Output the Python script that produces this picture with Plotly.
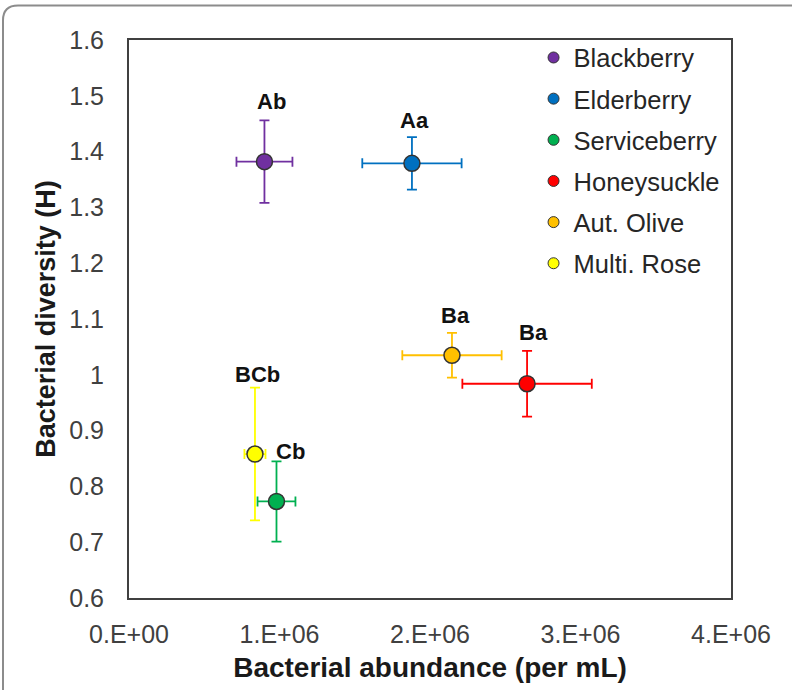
import plotly.graph_objects as go

# Shrub species and their bacterial community measurements
species = ["Blackberry", "Elderberry", "Serviceberry", "Honeysuckle", "Aut. Olive", "Multi. Rose"]
abundance = [0.90e6, 1.88e6, 0.98e6, 2.645e6, 2.146e6, 0.837e6]      # cells per mL
abundance_err = [0.186e6, 0.33e6, 0.126e6, 0.43e6, 0.33e6, 0.07e6]
diversity = [1.382, 1.379, 0.773, 0.984, 1.035, 0.858]                # Shannon H
diversity_err = [0.074, 0.047, 0.072, 0.059, 0.040, 0.119]
letters = ["Ab", "Aa", "Cb", "Ba", "Ba", "BCb"]
colors = ["#7030A0", "#0070C0", "#00B050", "#FF0000", "#FFC000", "#FFFF00"]

x_ticks = [0, 1e6, 2e6, 3e6, 4e6]
x_tick_text = ["0.E+00", "1.E+06", "2.E+06", "3.E+06", "4.E+06"]
y_ticks = [0.6, 0.7, 0.8, 0.9, 1.0, 1.1, 1.2, 1.3, 1.4, 1.5, 1.6]
y_tick_text = ["0.6", "0.7", "0.8", "0.9", "1", "1.1", "1.2", "1.3", "1.4", "1.5", "1.6"]

# letter placement offsets (pixels) relative to the top of each error bar
label_dx = [7, 3, 14, 6, 4, 3]
label_dy = [4, 2, -5, 4, 3, -1]

W, H = 792, 690
L, R, T, B = 129, 61, 40, 85

fig = go.Figure()

for i, name in enumerate(species):
    fig.add_trace(go.Scatter(
        x=[abundance[i]], y=[diversity[i]], mode="markers",
        marker=dict(size=16, color=colors[i], line=dict(color="#333333", width=1.5)),
        error_x=dict(type="data", array=[abundance_err[i]], color=colors[i], thickness=1.8, width=5),
        error_y=dict(type="data", array=[diversity_err[i]], color=colors[i], thickness=1.8, width=5),
        showlegend=False, name=name,
    ))

# legend entries with small markers
for i, name in enumerate(species):
    fig.add_trace(go.Scatter(
        x=[None], y=[None], mode="markers", name=name, legendgroup=name,
        marker=dict(size=11, color=colors[i], line=dict(color="#333333", width=1)),
    ))

for i, txt in enumerate(letters):
    fig.add_annotation(
        x=abundance[i], y=diversity[i] + diversity_err[i], text=f"<b>{txt}</b>",
        showarrow=False, xanchor="center", yanchor="bottom",
        xshift=label_dx[i], yshift=label_dy[i],
        font=dict(family="Liberation Sans, Arial", size=22, color="#111111"),
    )


def px_to_paper(px, py):
    return (px - L) / (W - L - R), (H - B - py) / (H - T - B)


# rounded outer frame around the figure
p0 = px_to_paper(3, 720)
p1 = px_to_paper(3, 20)
pc = px_to_paper(3, 5)
p2 = px_to_paper(18, 5)
p3 = px_to_paper(820, 5)
fig.add_shape(
    type="path", xref="paper", yref="paper",
    path=f"M {p0[0]},{p0[1]} L {p1[0]},{p1[1]} Q {pc[0]},{pc[1]} {p2[0]},{p2[1]} L {p3[0]},{p3[1]}",
    line=dict(color="#8c8c8c", width=2),
)

axis_common = dict(
    showgrid=False, zeroline=False, showline=True, mirror=True,
    linecolor="#404040", linewidth=2, ticks="",
    tickfont=dict(family="Liberation Sans, Arial", size=25, color="#404040"),
)

fig.update_layout(
    width=W, height=H,
    margin=dict(l=L, r=R, t=T, b=B),
    paper_bgcolor="white", plot_bgcolor="white",
    font=dict(family="Liberation Sans, Arial"),
    xaxis=dict(
        range=[0, 4e6], tickvals=x_ticks, ticktext=x_tick_text,
        ticklabelstandoff=13,
        title=dict(text="<b>Bacterial abundance (per mL)</b>", standoff=10,
                   font=dict(family="Liberation Sans, Arial", size=28, color="#1a1a1a")),
        **axis_common,
    ),
    yaxis=dict(
        range=[0.6, 1.6], tickvals=y_ticks, ticktext=y_tick_text,
        ticklabelstandoff=18,
        title=dict(text="<b>Bacterial diversity (H)</b>", standoff=6,
                   font=dict(family="Liberation Sans, Arial", size=27, color="#1a1a1a")),
        **axis_common,
    ),
    legend=dict(
        x=0.672, y=1.01, xanchor="left", yanchor="top",
        bgcolor="rgba(0,0,0,0)", borderwidth=0,
        tracegroupgap=5,
        font=dict(family="Liberation Sans, Arial", size=25.5, color="#262626"),
    ),
)

fig.write_html("out.html")
